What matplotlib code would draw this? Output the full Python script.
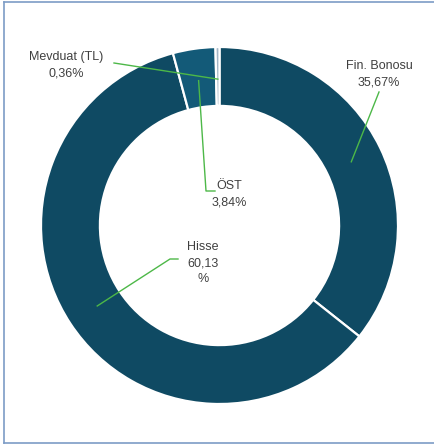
import numpy as np
import matplotlib
matplotlib.use("Agg")
import matplotlib.pyplot as plt
from matplotlib.lines import Line2D

# portfolio breakdown
labels = ["Fin. Bonosu", "Hisse", "ÖST", "Mevduat (TL)"]
values = [35.67, 60.13, 3.84, 0.36]
value_text = ["35,67%", "60,13\n%", "3,84%", "0,36%"]
colors = ["#0f4a63", "#0f4a63", "#135a78", "#a3b6c6"]

W, H = 435, 447
cx, cy, R = 219.5, 225.5, 178.5   # donut centre / radius in pixels


def px(x, y):
    # pixel (from top-left) -> data coords
    return (x - cx) / R, (cy - y) / R


fig = plt.figure(figsize=(W / 100, H / 100), dpi=100)
ax = fig.add_axes([0, 0, 1, 1])

wedges, _ = ax.pie(values, colors=colors, startangle=90, counterclock=False,
                   radius=1.0, wedgeprops=dict(width=0.33, edgecolor="white", linewidth=1.6))

ax.set_aspect("auto")
ax.set_xlim(-cx / R, (W - cx) / R)
ax.set_ylim(-(H - cy) / R, cy / R)
ax.axis("off")

# text block positions (pixels) and the elbow of each leader line
text_pos = [(379, 74), (203, 263), (229, 194), (66, 65)]
line_start = [(379, 92), (178, 259), (215, 191), (114, 63)]
elbow = [None, (170, 259), (206, 191), None]

for w, lab, vt, tp, ls, el in zip(wedges, labels, value_text, text_pos, line_start, elbow):
    ang = np.deg2rad((w.theta1 + w.theta2) / 2)
    ax_, ay_ = 0.82 * np.cos(ang), 0.82 * np.sin(ang)
    pts = [px(*ls)]
    if el is not None:
        pts.append(px(*el))
    pts.append((ax_, ay_))
    xs, ys = zip(*pts)
    ax.plot(xs, ys, color="#4db848", lw=1.0, zorder=5)
    tx, ty = px(*tp)
    ax.text(tx, ty, lab + "\n" + vt, ha="center", va="center", fontsize=9,
            color="#404040", family="Liberation Sans", linespacing=1.5, zorder=6)

# outer frame (right side runs off the picture)
fc = "#7d9cc6"
fig.add_artist(Line2D([4 / W, 4 / W], [1 - 1.5 / H, 1 - 443 / H], color=fc, lw=1.2))
fig.add_artist(Line2D([4 / W, 1], [1 - 1.5 / H, 1 - 1.5 / H], color=fc, lw=1.2))
fig.add_artist(Line2D([4 / W, 1], [1 - 443 / H, 1 - 443 / H], color=fc, lw=1.2))

fig.savefig("out.png", dpi=100)
